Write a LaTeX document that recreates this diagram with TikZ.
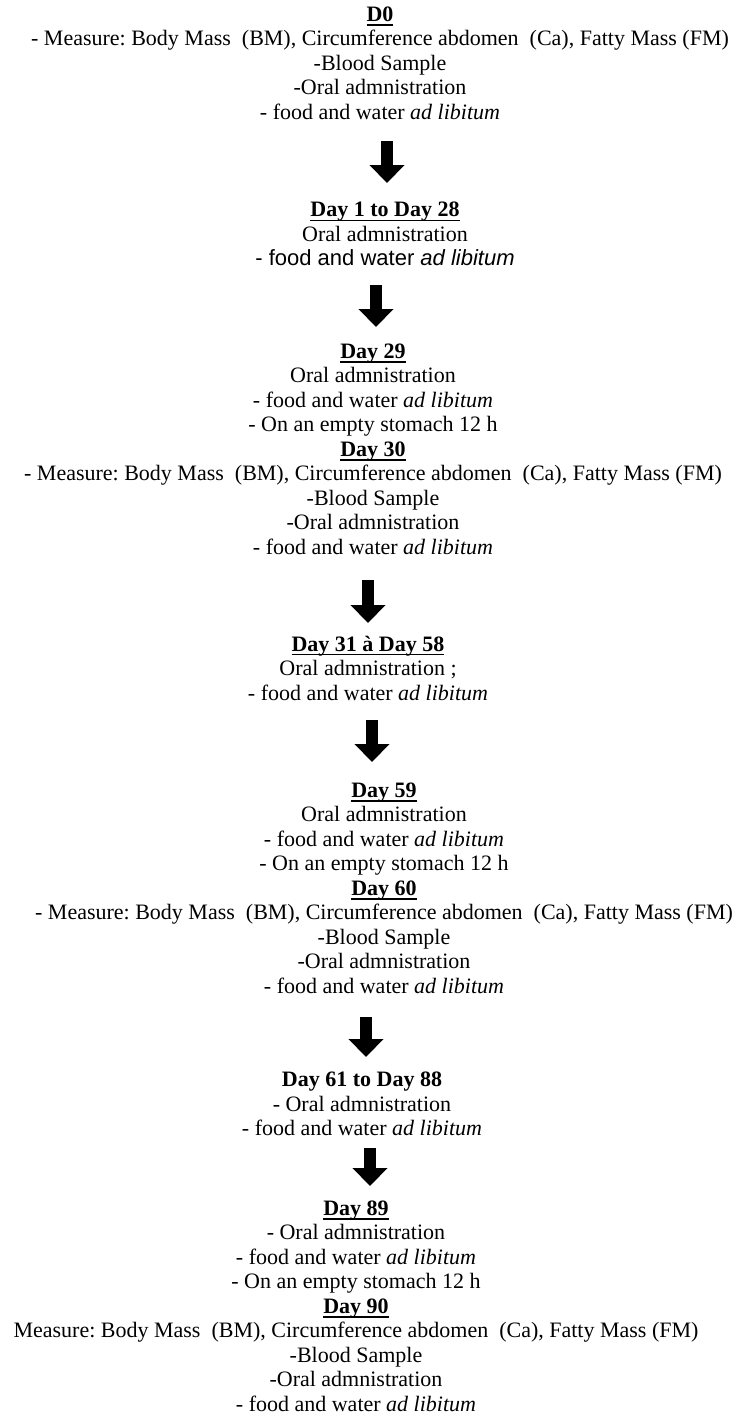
\documentclass[tikz,border=0pt]{standalone}
\usepackage{fontspec}
\setmainfont{Liberation Serif}
\newfontfamily\arialfont{Liberation Sans}
\usetikzlibrary{arrows.meta}
\newsavebox\hdbox
\newcommand{\hd}[1]{\sbox\hdbox{\textbf{#1}}\rlap{\usebox\hdbox}\rule[-4.4pt]{\wd\hdbox}{1.4pt}}
\newcommand{\adlib}{\textit{ad libitum}}
\begin{document}
\begin{tikzpicture}[x=1pt,y=1pt,
  blk/.style={align=center,inner sep=0pt,font=\fontsize{22}{24.5}\selectfont\frenchspacing},
  bigarrow/.style={line width=12pt,-{Triangle[width=34pt,length=18pt]},black}]
\useasboundingbox (0,0) rectangle (737,-1419);
\fill[white] (0,0) rectangle (737,-1419);

\node[blk] (b1) at (380,-63) {\hd{D0}\\
- Measure: Body Mass\ \ (BM), Circumference abdomen\ \ (Ca), Fatty Mass (FM)\\
-Blood Sample\\
-Oral admnistration\\
- food and water \adlib};

\node[blk] (b2) at (385,-234) {\hd{Day 1 to Day 28}\\
Oral admnistration\\
{\arialfont - food and water \textit{ad libitum}}};

\node[blk] (b3) at (373,-449) {\hd{Day 29}\\
Oral admnistration\\
- food and water \adlib\\
- On an empty stomach 12 h\\
\hd{Day 30}\\
- Measure: Body Mass\ \ (BM), Circumference abdomen\ \ (Ca), Fatty Mass (FM)\\
-Blood Sample\\
-Oral admnistration\\
- food and water \adlib};

\node[blk] (b4) at (368,-668) {\hd{Day 31 à Day 58}\\
Oral admnistration ;\\
- food and water \adlib};

\node[blk] (b5) at (384,-888) {\hd{Day 59}\\
Oral admnistration\\
- food and water \adlib\\
- On an empty stomach 12 h\\
\hd{Day 60}\\
- Measure: Body Mass\ \ (BM), Circumference abdomen\ \ (Ca), Fatty Mass (FM)\\
-Blood Sample\\
-Oral admnistration\\
- food and water \adlib};

\node[blk] (b6) at (362,-1104) {\textbf{Day 61 to Day 88}\\
- Oral admnistration\\
- food and water \adlib};

\node[blk] (b7) at (356,-1306) {\hd{Day 89}\\
- Oral admnistration\\
- food and water \adlib\\
- On an empty stomach 12 h\\
\hd{Day 90}\\
Measure: Body Mass\ \ (BM), Circumference abdomen\ \ (Ca), Fatty Mass (FM)\\
-Blood Sample\\
-Oral admnistration\\
- food and water \adlib};

\coordinate (a1s) at (387,-141); \coordinate (a1e) at (387,-183);
\coordinate (a2s) at (376,-285); \coordinate (a2e) at (376,-327);
\coordinate (a3s) at (368,-580); \coordinate (a3e) at (368,-623);
\coordinate (a4s) at (372,-720); \coordinate (a4e) at (372,-762);
\coordinate (a5s) at (366,-1017); \coordinate (a5e) at (366,-1057);
\coordinate (a6s) at (370,-1148); \coordinate (a6e) at (370,-1186);
\foreach \i in {1,...,6} {\draw[bigarrow] (a\i s) -- (a\i e);}
\end{tikzpicture}
\end{document}
